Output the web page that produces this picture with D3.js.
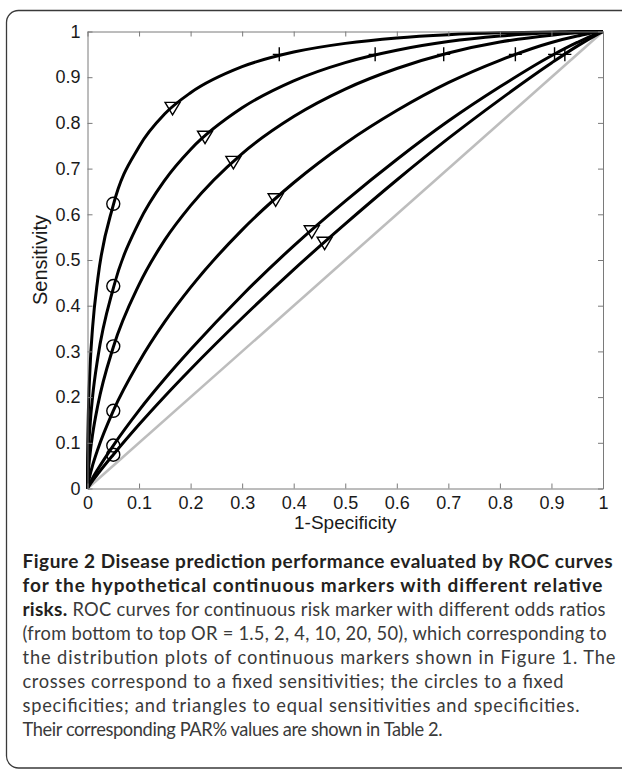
<!DOCTYPE html>
<html>
<head>
<meta charset="utf-8">
<script src="https://cdn.jsdelivr.net/npm/d3@7"></script>
<style>
  html, body { margin: 0; padding: 0; background: #fff; }
  svg { display: block; }
</style>
</head>
<body>
<script>
// ROC curves, values (1-specificity -> sensitivity)
const fpr = [0, 0.0001, 0.001, 0.005, 0.01, 0.02, 0.05, 0.1, 0.15, 0.2, 0.3, 0.4, 0.5, 0.6, 0.7, 0.8, 0.9, 0.95, 0.99, 1];

const tprOR50 = [0, 0.038, 0.127, 0.266, 0.354, 0.459, 0.620, 0.748, 0.820, 0.866, 0.923, 0.955, 0.974, 0.986, 0.993, 0.997, 0.999, 1, 1, 1];
const tprOR20 = [0, 0.013, 0.055, 0.139, 0.202, 0.286, 0.438, 0.583, 0.675, 0.742, 0.833, 0.892, 0.932, 0.959, 0.978, 0.990, 0.997, 0.999, 1, 1];
const tprOR10 = [0, 0.005, 0.026, 0.076, 0.119, 0.182, 0.309, 0.446, 0.544, 0.619, 0.733, 0.814, 0.874, 0.919, 0.953, 0.977, 0.992, 0.997, 1, 1];
const tprOR4 = [0, 0.001, 0.008, 0.030, 0.051, 0.086, 0.170, 0.277, 0.365, 0.440, 0.566, 0.669, 0.755, 0.827, 0.888, 0.937, 0.976, 0.990, 0.999, 1];
const tprOR2 = [0, 0.0004, 0.003, 0.012, 0.023, 0.042, 0.094, 0.171, 0.240, 0.304, 0.423, 0.531, 0.629, 0.720, 0.804, 0.879, 0.947, 0.976, 0.996, 1];
const tprOR15 = [0, 0.0002, 0.002, 0.009, 0.017, 0.032, 0.074, 0.140, 0.202, 0.261, 0.373, 0.479, 0.579, 0.675, 0.766, 0.851, 0.931, 0.968, 0.994, 1];

const oddsRatios = ['1.5', '2', '4', '10', '20', '50'];
const curves = [tprOR15, tprOR2, tprOR4, tprOR10, tprOR20, tprOR50];

// markers, bottom curve to top curve
const crossX = [0.926, 0.906, 0.83, 0.691, 0.558, 0.372];
const crossY = [0.95, 0.95, 0.95, 0.95, 0.95, 0.95];
const circleX = [0.05, 0.05, 0.05, 0.05, 0.05, 0.05];
const circleY = [0.074, 0.094, 0.17, 0.311, 0.443, 0.623];
const triangleX = [0.46, 0.435, 0.365, 0.283, 0.228, 0.165];
const triangleY = [0.54, 0.565, 0.635, 0.717, 0.772, 0.835];

const tickValues = [0, 0.1, 0.2, 0.3, 0.4, 0.5, 0.6, 0.7, 0.8, 0.9, 1];

const captionLines = [
  [{ t: 'Figure 2 Disease prediction performance evaluated by ROC curves', b: true }],
  [{ t: 'for the hypothetical continuous markers with different relative', b: true }],
  [{ t: 'risks.', b: true }, { t: ' ROC curves for continuous risk marker with different odds ratios', b: false }],
  [{ t: '(from bottom to top OR = 1.5, 2, 4, 10, 20, 50), which corresponding to', b: false }],
  [{ t: 'the distribution plots of continuous markers shown in Figure 1. The', b: false }],
  [{ t: 'crosses correspond to a fixed sensitivities; the circles to a fixed', b: false }],
  [{ t: 'specificities; and triangles to equal sensitivities and specificities.', b: false }],
  [{ t: 'Their corresponding PAR% values are shown in Table 2.', b: false }]
];
const captionWidths = [590, 580, 583, 584, 593, 541, 557, 420];

const W = 622, H = 769;
const plot = { left: 87.5, right: 603, top: 31.5, bottom: 488.5 };

const svg = d3.select('body').append('svg')
  .attr('width', W)
  .attr('height', H);

// figure frame (runs off the right and bottom edges)
svg.append('rect')
  .attr('x', 6.5).attr('y', 10.5)
  .attr('width', 660).attr('height', 757.5)
  .attr('rx', 12).attr('ry', 12)
  .attr('fill', 'none')
  .attr('stroke', '#3a3a3a')
  .attr('stroke-width', 1.3);

const x = d3.scaleLinear().domain([0, 1]).range([plot.left, plot.right]);
const y = d3.scaleLinear().domain([0, 1]).range([plot.bottom, plot.top]);

// chance line
svg.append('path')
  .datum([[0, 0], [1, 1]])
  .attr('fill', 'none')
  .attr('stroke', '#bdbdbd')
  .attr('stroke-width', 2.6)
  .attr('d', d3.line().x(d => x(d[0])).y(d => y(d[1])));

const line = d3.line()
  .x((d, i) => x(fpr[i]))
  .y(d => y(d))
  .curve(d3.curveMonotoneX);

svg.append('g').selectAll('path')
  .data(curves)
  .join('path')
  .attr('fill', 'none')
  .attr('stroke', '#000')
  .attr('stroke-width', 3)
  .attr('stroke-linejoin', 'round')
  .attr('d', line);

const mk = svg.append('g')
  .attr('fill', 'none')
  .attr('stroke', '#000')
  .attr('stroke-width', 1.4);

mk.selectAll('path.cross')
  .data(oddsRatios)
  .join('path')
  .attr('class', 'cross')
  .attr('transform', (d, i) => 'translate(' + x(crossX[i]) + ',' + y(crossY[i]) + ')')
  .attr('d', 'M-6.5,0H6.5M0,-7V7');

mk.selectAll('circle')
  .data(oddsRatios)
  .join('circle')
  .attr('cx', (d, i) => x(circleX[i]))
  .attr('cy', (d, i) => y(circleY[i]))
  .attr('r', 6.5);

mk.selectAll('path.tri')
  .data(oddsRatios)
  .join('path')
  .attr('class', 'tri')
  .attr('transform', (d, i) => 'translate(' + x(triangleX[i]) + ',' + y(triangleY[i]) + ')')
  .attr('d', 'M-7.5,-4.5L7.5,-4.5L0,8Z');

// axes box with inward ticks
const fmt = d3.format('~g');
const styleAxis = g => {
  g.select('.domain').attr('stroke', '#7a7a7a').attr('stroke-width', 1);
  g.selectAll('.tick line').attr('stroke', '#7a7a7a');
  g.selectAll('text')
    .attr('fill', '#1a1a1a')
    .style('font-family', '"Liberation Sans", Arial, sans-serif')
    .style('font-size', '18px');
};

svg.append('g')
  .attr('transform', 'translate(0,' + plot.bottom + ')')
  .call(d3.axisBottom(x).tickValues(tickValues).tickFormat(fmt).tickSizeInner(-5).tickSizeOuter(0).tickPadding(8))
  .call(styleAxis);

svg.append('g')
  .attr('transform', 'translate(' + plot.left + ',0)')
  .call(d3.axisLeft(y).tickValues(tickValues).tickFormat(fmt).tickSizeInner(-5).tickSizeOuter(0).tickPadding(7))
  .call(styleAxis);

svg.append('g')
  .attr('transform', 'translate(0,' + plot.top + ')')
  .call(d3.axisTop(x).tickValues(tickValues).tickFormat('').tickSizeInner(-5).tickSizeOuter(0))
  .call(styleAxis);

svg.append('g')
  .attr('transform', 'translate(' + plot.right + ',0)')
  .call(d3.axisRight(y).tickValues(tickValues).tickFormat('').tickSizeInner(-5).tickSizeOuter(0))
  .call(styleAxis);

// axis titles
svg.append('text')
  .attr('x', (plot.left + plot.right) / 2)
  .attr('y', 529)
  .attr('text-anchor', 'middle')
  .attr('fill', '#1a1a1a')
  .style('font-family', '"Liberation Sans", Arial, sans-serif')
  .style('font-size', '19px')
  .text('1-Specificity');

svg.append('text')
  .attr('transform', 'translate(47,' + ((plot.top + plot.bottom) / 2) + ') rotate(-90)')
  .attr('text-anchor', 'middle')
  .attr('fill', '#1a1a1a')
  .style('font-family', '"Liberation Sans", Arial, sans-serif')
  .style('font-size', '20px')
  .text('Sensitivity');

// caption
const cap = svg.append('g')
  .style('font-family', 'Lato, "Open Sans", sans-serif');

captionLines.forEach((parts, i) => {
  const t = cap.append('text')
    .attr('x', 22.5)
    .attr('y', 567.5 + i * 24.1)
    .attr('textLength', captionWidths[i])
    .attr('lengthAdjust', 'spacing');
  parts.forEach(p => {
    t.append('tspan')
      .attr('font-weight', p.b ? 700 : 400)
      .attr('font-size', p.b ? '19px' : '18.3px')
      .attr('fill', p.b ? '#231f20' : '#3a3a3a')
      .text(p.t);
  });
});
</script>
</body>
</html>
